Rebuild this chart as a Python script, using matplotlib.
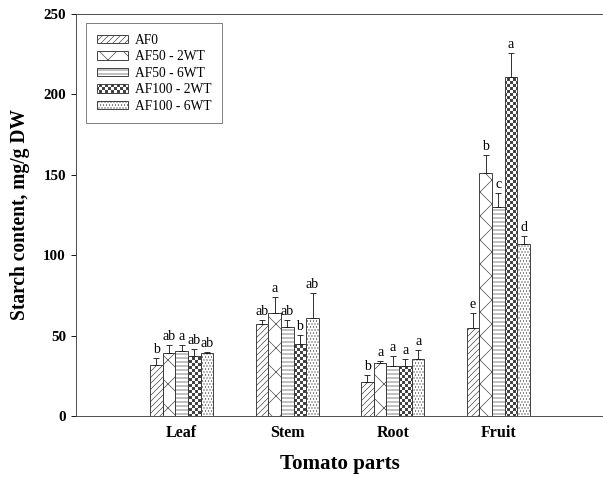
import numpy as np
import matplotlib
matplotlib.use("Agg")
import matplotlib.pyplot as plt
import matplotlib.hatch as mhatch
from matplotlib.path import Path

# ---------------- data ----------------
parts = ["Leaf", "Stem", "Root", "Fruit"]
treatments = ["AF0", "AF50 - 2WT", "AF50 - 6WT", "AF100 - 2WT", "AF100 - 6WT"]

af0 = [31.7, 57.2, 21.3, 54.7]
af0_err = [4.2, 2.5, 4.0, 9.6]
af50_2wt = [39.0, 63.9, 32.8, 151.3]
af50_2wt_err = [5.4, 9.9, 1.6, 11.2]
af50_6wt = [40.4, 55.5, 31.1, 130.2]
af50_6wt_err = [3.6, 4.2, 6.4, 8.3]
af100_2wt = [37.3, 44.8, 31.3, 211.0]
af100_2wt_err = [4.2, 5.6, 3.9, 14.5]
af100_6wt = [39.4, 61.1, 35.2, 106.8]
af100_6wt_err = [0.5, 15.2, 5.8, 5.1]

af0_letters = ["b", "ab", "b", "e"]
af50_2wt_letters = ["ab", "a", "a", "b"]
af50_6wt_letters = ["a", "ab", "a", "c"]
af100_2wt_letters = ["ab", "b", "a", "a"]
af100_6wt_letters = ["ab", "ab", "a", "d"]

y_ticks = [0, 50, 100, 150, 200, 250]

# ---------------- custom checkerboard hatch (uses 'o') ----------------
class Checker(mhatch.HatchPatternBase):
    def __init__(self, hatch, density):
        self.n = hatch.count('o') * 12
        if self.n:
            self.cells = [(i, j) for i in range(self.n) for j in range(self.n)
                          if (i + j) % 2 == 0]
        else:
            self.cells = []
        self.num_vertices = len(self.cells) * 5

    def set_vertices_and_codes(self, vertices, codes):
        s = 1.0 / self.n
        m = 0.1 * s
        k = 0
        for (i, j) in self.cells:
            x0, y0 = i * s + m, j * s + m
            x1, y1 = (i + 1) * s - m, (j + 1) * s - m
            vertices[k:k + 5] = [[x0, y0], [x1, y0], [x1, y1], [x0, y1], [x0, y0]]
            codes[k:k + 5] = [Path.MOVETO, Path.LINETO, Path.LINETO,
                              Path.LINETO, Path.CLOSEPOLY]
            k += 5

mhatch._hatch_types = [t for t in mhatch._hatch_types
                       if t is not mhatch.SmallCircles] + [Checker]

plt.rcParams['font.family'] = ['Liberation Serif', 'DejaVu Serif']
plt.rcParams['hatch.linewidth'] = 0.6

DPI = 72
fig = plt.figure(figsize=(603 / DPI, 477 / DPI), dpi=DPI)
ax = fig.add_axes([76 / 603, 61 / 477, 528 / 603, 402 / 477])

series = [af0, af50_2wt, af50_6wt, af100_2wt, af100_6wt]
errs = [af0_err, af50_2wt_err, af50_6wt_err, af100_2wt_err, af100_6wt_err]
letters = [af0_letters, af50_2wt_letters, af50_6wt_letters,
           af100_2wt_letters, af100_6wt_letters]
hatches = ['////', 'x', '---', 'oo', '....']

x = np.arange(1, len(parts) + 1)
w = 0.12
edge = '#333333'
for k, (vals, er, lt, h) in enumerate(zip(series, errs, letters, hatches)):
    pos = x + (k - 2) * w
    ax.bar(pos, vals, width=w, color='white', edgecolor=edge, linewidth=0.9,
           hatch=h, label=treatments[k], zorder=2)
    ax.errorbar(pos, vals, yerr=[np.zeros(len(vals)), er], fmt='none',
                ecolor='#202020', elinewidth=0.9, capsize=3, capthick=0.9,
                zorder=3)
    for p, v, e, t in zip(pos, vals, er, lt):
        ax.text(p, v + e + 1.2, t, ha='center', va='bottom', fontsize=14)

ax.set_xlim(0, 5)
ax.set_ylim(0, 250)
ax.set_xticks(x)
ax.set_xticklabels(parts, fontsize=16, fontweight='bold')
ax.set_yticks(y_ticks)
ax.set_yticklabels([str(t) for t in y_ticks], fontsize=15, fontweight='bold')
ax.tick_params(axis='x', length=0, pad=9)
ax.tick_params(axis='y', direction='out', length=5, width=0.9, pad=5)
ax.spines['right'].set_visible(False)
for s in ['left', 'top', 'bottom']:
    ax.spines[s].set_linewidth(0.9)
    ax.spines[s].set_color('#404040')

ax.set_xlabel("Tomato parts", fontsize=21, fontweight='bold', labelpad=13)
ax.set_ylabel("Starch content, mg/g DW", fontsize=19.5, fontweight='bold',
              labelpad=13)

leg = ax.legend(loc='upper left', bbox_to_anchor=(0.019, 0.978),
                borderaxespad=0, fontsize=13.5, frameon=True, fancybox=False,
                edgecolor='#505050', handlelength=2.3, handleheight=0.6,
                labelspacing=0.26, borderpad=0.8, handletextpad=0.5)
leg.get_frame().set_linewidth(0.9)

fig.savefig("out.png", dpi=DPI)
